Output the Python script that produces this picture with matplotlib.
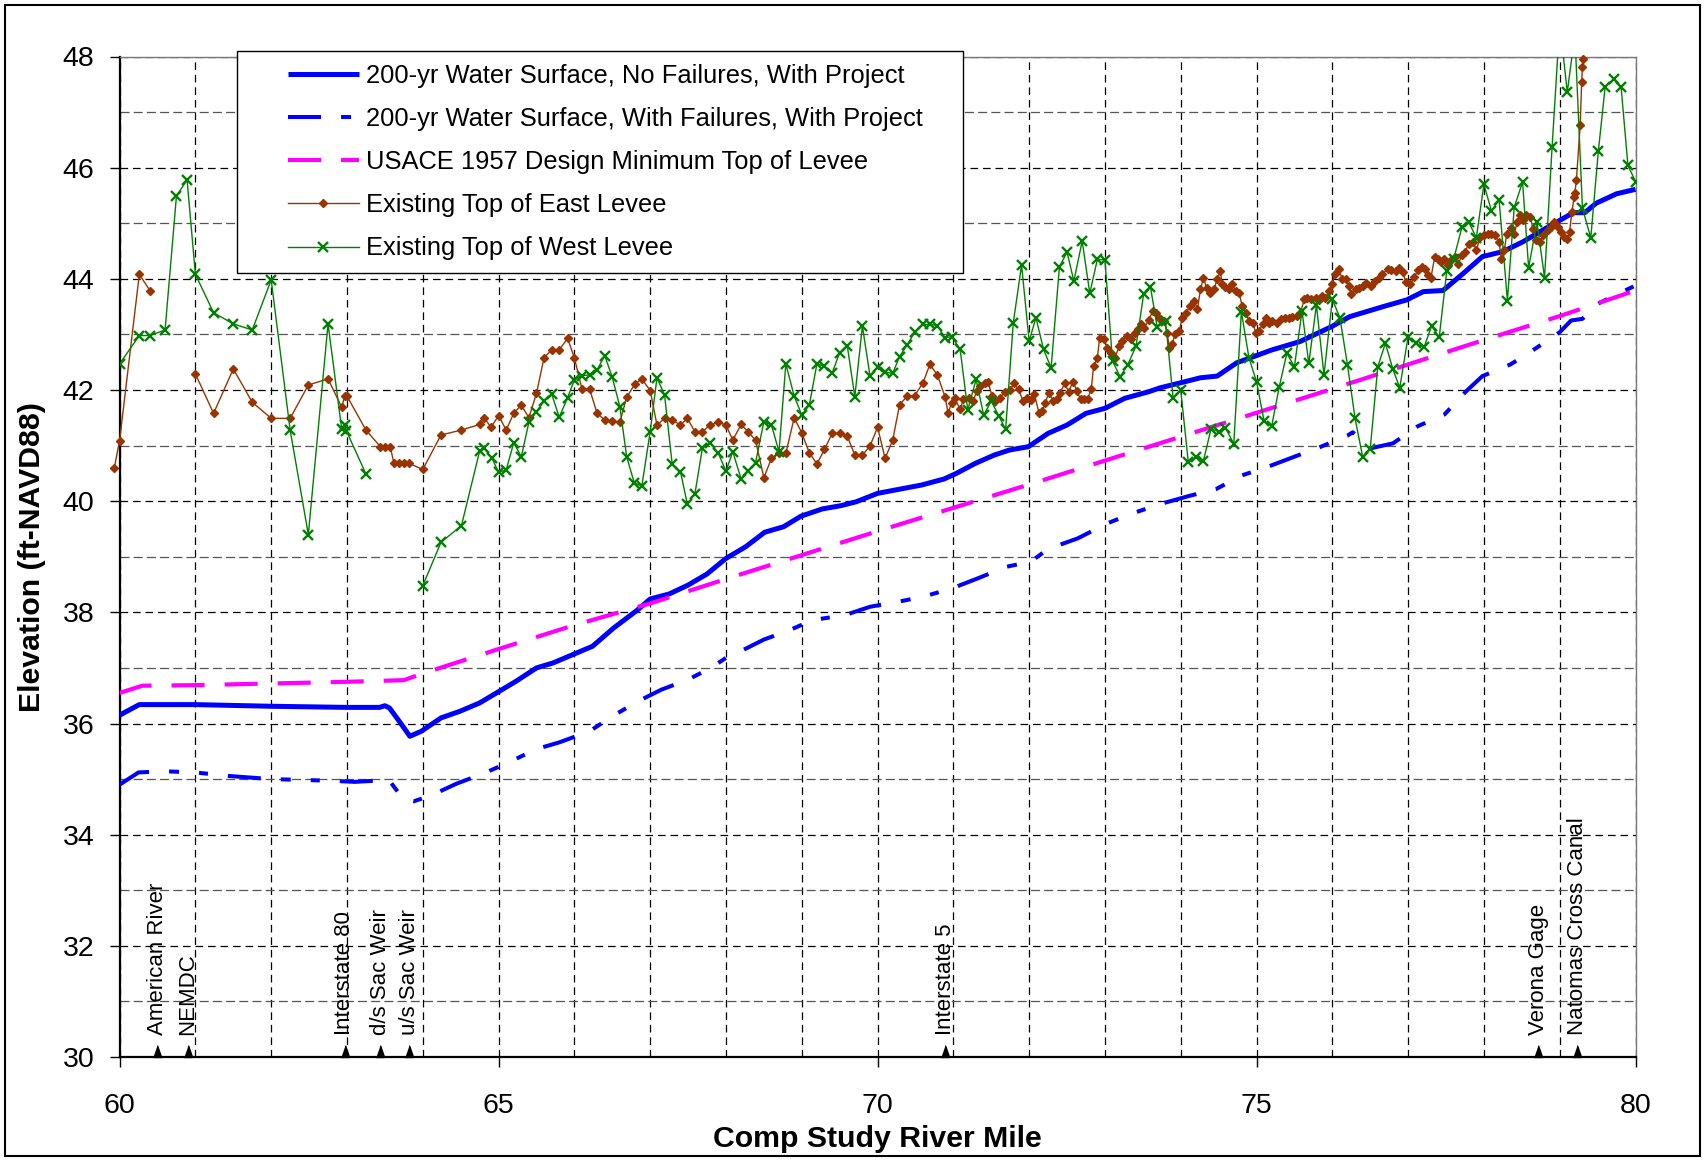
import numpy as np
import matplotlib
matplotlib.use('Agg')
import matplotlib.pyplot as plt
from matplotlib.lines import Line2D
from matplotlib.legend_handler import HandlerLine2D
from matplotlib.patches import Rectangle

plt.rcParams['font.family'] = ['Liberation Sans', 'DejaVu Sans']
plt.rcParams['lines.scale_dashes'] = False

nan = np.nan

# ---------------- data ----------------
ws_nofail_mile = [60.0, 60.26, 61.0, 62.0, 63.0, 63.43, 63.5, 63.56, 63.69, 63.83, 63.98, 64.24, 64.49, 64.75,
                  65.01, 65.23, 65.5, 65.72, 65.98, 66.24, 66.52, 66.84, 67.0, 67.25, 67.5, 67.75, 68.0, 68.26,
                  68.51, 68.76, 68.99, 69.27, 69.52, 69.72, 70.0, 70.23, 70.58, 70.88, 71.04, 71.29, 71.54,
                  71.74, 71.99, 72.25, 72.5, 72.75, 73.0, 73.26, 73.58, 73.73, 74.0, 74.26, 74.48, 74.74, 75.2,
                  75.57, 75.99, 76.23, 76.67, 76.98, 77.2, 77.46, 77.73, 77.98, 78.25, 78.52, 78.78, 79.05,
                  79.18, 79.33, 79.48, 79.75, 80.0]
ws_nofail_elev = [36.15, 36.34, 36.34, 36.31, 36.29, 36.29, 36.32, 36.28, 36.04, 35.77, 35.86, 36.1, 36.22, 36.37,
                  36.58, 36.76, 37.0, 37.09, 37.24, 37.39, 37.72, 38.05, 38.24, 38.33, 38.49, 38.69, 38.97, 39.18,
                  39.44, 39.54, 39.73, 39.86, 39.92, 39.99, 40.14, 40.2, 40.29, 40.4, 40.5, 40.68, 40.83,
                  40.92, 40.98, 41.22, 41.37, 41.58, 41.67, 41.85, 41.97, 42.04, 42.13, 42.22, 42.25, 42.49, 42.72,
                  42.87, 43.14, 43.32, 43.5, 43.62, 43.77, 43.79, 44.1, 44.4, 44.49, 44.67, 44.88, 45.09,
                  45.19, 45.19, 45.36, 45.53, 45.61]

ws_fail_mile = [60.0, 60.25, 60.6, 61.0, 61.4, 62.0, 62.8, 63.1, 63.5, 63.56, 63.75, 63.88, 64.1, 64.45, 64.8,
                65.1, 65.5, 65.8, 66.2, 66.5, 66.84, 67.15, 67.5, 67.8, 68.0, 68.15, 68.5, 68.84, 69.14, 69.57,
                69.9, 70.27, 70.6, 70.98, 71.32, 71.7, 72.02, 72.25, 72.64, 73.03, 73.36, 73.76, 74.1, 74.47,
                74.8, 75.19, 75.5, 75.85, 76.2, 76.27, 76.5, 76.8, 77.13, 77.48, 77.76, 77.98, 78.35, 78.63,
                79.0, 79.15, 79.3, 79.5, 79.65, 80.0]
ws_fail_elev = [34.9, 35.12, 35.14, 35.12, 35.06, 35.0, 34.97, 34.95, 34.98, 34.97, 34.63, 34.6, 34.7, 34.92, 35.1,
                35.28, 35.54, 35.66, 35.86, 36.13, 36.4, 36.61, 36.79, 37.0, 37.18, 37.27, 37.51, 37.68, 37.86, 37.95,
                38.1, 38.19, 38.28, 38.43, 38.61, 38.82, 38.91, 39.14, 39.33, 39.6, 39.78, 39.96, 40.09, 40.22,
                40.46, 40.64, 40.8, 40.98, 41.18, 41.24, 40.95, 41.04, 41.35, 41.56, 41.97, 42.25, 42.46, 42.7,
                43.04, 43.25, 43.28, 43.55, 43.65, 43.88]

usace_mile = [60.0, 60.3, 61.0, 62.0, 63.0, 63.75, 64.0, 65.0, 66.0, 67.0, 68.0, 69.0, 70.0, 71.0, 72.0, 73.0,
              74.0, 75.0, 76.0, 77.0, 78.0, 79.0, 80.0]
usace_elev = [36.55, 36.68, 36.69, 36.72, 36.75, 36.78, 36.9, 37.34, 37.77, 38.16, 38.6, 39.03, 39.46, 39.88,
              40.3, 40.73, 41.16, 41.59, 42.02, 42.46, 42.9, 43.33, 43.79]

east_mile = [59.93, 60.0, 60.26, 60.4, nan, 61.0, 61.24, 61.5, 61.75, 62.0, 62.25, 62.49, 62.75, 62.93, 62.97, 63.0,
             63.25, 63.44, 63.5, 63.57, 63.62, 63.69, 63.75, 63.82, 64.0, 64.24, 64.51, 64.75, 64.81, 64.9, 65.0,
             65.1, 65.2, 65.3, 65.4, 65.5, 65.6, 65.7, 65.8, 65.91, 66.0, 66.1, 66.2, 66.3, 66.4, 66.5, 66.6,
             66.69, 66.8, 66.89, 67.0, 67.09, 67.19, 67.29, 67.4, 67.49, 67.59, 67.69, 67.79, 67.9, 68.0, 68.09,
             68.2, 68.29, 68.39, 68.5, 68.6, 68.7, 68.79, 68.9, 69.0, 69.1, 69.2, 69.3, 69.4, 69.5, 69.6, 69.7,
             69.8, 69.9, 70.0, 70.1, 70.2, 70.29, 70.39, 70.49, 70.6, 70.69, 70.79, 70.89, 70.93, 70.98, 71.02,
             71.09, 71.13, 71.2, 71.26, 71.31, 71.35, 71.42, 71.46, 71.51, 71.55, 71.62, 71.68, 71.75, 71.8,
             71.86, 71.92, 71.97, 72.02, 72.07, 72.13, 72.17, 72.21, 72.26, 72.32, 72.37, 72.41, 72.47, 72.52,
             72.58, 72.63, 72.68, 72.72, 72.77, 72.82, 72.85, 72.9, 72.93, 72.99, 73.03, 73.08, 73.13, 73.19,
             73.23, 73.29, 73.34, 73.4, 73.44, 73.48, 73.52, 73.58, 73.63, 73.67, 73.71, 73.78, 73.82, 73.85,
             73.89, 73.92, 73.98, 74.02, 74.07, 74.12, 74.18, 74.22, 74.26, 74.3, 74.34, 74.39, 74.44, 74.48,
             74.52, 74.55, 74.59, 74.64, 74.68, 74.73, 74.77, 74.81, 74.86, 74.9, 74.95, 74.99, 75.03, 75.08,
             75.12, 75.17, 75.21, 75.27, 75.32, 75.37, 75.43, 75.47, 75.53, 75.58, 75.63, 75.67, 75.72, 75.78,
             75.83, 75.87, 75.91, 75.96, 76.0, 76.03, 76.09, 76.13, 76.18, 76.22, 76.25, 76.31, 76.35, 76.41,
             76.45, 76.51, 76.56, 76.62, 76.66, 76.73, 76.78, 76.84, 76.88, 76.93, 76.97, 77.03, 77.08, 77.13,
             77.18, 77.22, 77.26, 77.3, 77.35, 77.39, 77.43, 77.48, 77.52, 77.56, 77.62, 77.66, 77.71, 77.75,
             77.8, 77.86, 77.9, 77.95, 78.0, 78.05, 78.1, 78.15, 78.2, 78.23, 78.27, 78.3, 78.36, 78.4, 78.44,
             78.47, 78.52, 78.56, 78.61, 78.65, 78.69, 78.74, 78.78, 78.84, 78.88, 78.93, 78.98, 79.02, 79.06,
             79.1, 79.13, 79.16, 79.19, 79.2, 79.22, 79.27, 79.29, 79.3, 79.31]
east_elev = [40.6, 41.09, 44.08, 43.79, nan, 42.29, 41.58, 42.38, 41.78, 41.49, 41.49, 42.09, 42.2, 41.69, 41.89, 41.89,
             41.28, 40.98, 40.98, 40.98, 40.68, 40.68, 40.68, 40.68, 40.57, 41.19, 41.28, 41.38, 41.5, 41.33, 41.54,
             41.28, 41.58, 41.73, 41.5, 41.94, 42.58, 42.72, 42.72, 42.93, 42.58, 42.02, 42.02, 41.58, 41.46, 41.44, 41.42,
             41.87, 42.11, 42.2, 41.99, 41.37, 41.49, 41.46, 41.37, 41.49, 41.25, 41.25, 41.37, 41.42, 41.37, 41.1,
             41.38, 41.25, 41.1, 40.42, 40.77, 40.86, 40.86, 41.5, 41.23, 40.87, 40.67, 40.93, 41.22, 41.22, 41.17, 40.83,
             40.83, 40.99, 41.33, 40.77, 41.1, 41.73, 41.89, 41.9, 42.13, 42.46, 42.27, 41.88, 41.59, 41.77, 41.85,
             41.65, 41.83, 41.86, 41.8, 41.98, 42.07, 42.13, 42.14, 41.89, 41.8, 41.86, 41.97, 42.0, 42.12,
             42.01, 41.8, 41.86, 41.82, 41.92, 41.59, 41.62, 41.76, 41.95, 41.8, 41.83, 41.95, 42.12, 41.97,
             42.15, 41.98, 41.83, 41.84, 41.83, 42.02, 42.43, 42.58, 42.94, 42.91, 42.76, 42.66, 42.58, 42.79,
             42.88, 42.97, 42.91, 43.03, 43.1, 43.18, 43.12, 43.26, 43.42, 43.39, 43.3, 43.24, 43.03, 42.76,
             42.82, 43.0, 43.06, 43.3, 43.39, 43.51, 43.6, 43.45, 43.81, 44.02, 43.84, 43.75, 43.81, 43.99,
             44.14, 43.9, 43.86, 43.82, 43.9, 43.78, 43.75, 43.51, 43.39, 43.24, 43.21, 43.03, 43.06, 43.18,
             43.3, 43.21, 43.24, 43.21, 43.27, 43.3, 43.3, 43.32, 43.33, 43.39, 43.63, 43.66, 43.63, 43.66,
             43.62, 43.69, 43.66, 43.78, 43.9, 44.08, 44.17, 43.99, 43.99, 43.87, 43.72, 43.81, 43.84, 43.87,
             43.93, 43.87, 43.96, 44.02, 44.08, 44.18, 44.16, 44.14, 44.2, 44.12, 43.94, 43.9, 44.03, 44.15,
             44.21, 44.18, 44.06, 44.01, 44.39, 44.36, 44.3, 44.36, 44.24, 44.33, 44.39, 44.27, 44.42, 44.48,
             44.63, 44.66, 44.51, 44.75, 44.78, 44.81, 44.81, 44.78, 44.66, 44.36, 44.51, 44.81, 44.91, 44.81, 45.02,
             45.14, 45.05, 45.15, 45.11, 44.9, 44.69, 44.66, 44.78, 44.87, 44.93, 45.03, 44.93, 44.84, 44.75,
             44.72, 44.84, 45.2, 45.47, 45.55, 45.77, 46.76, 47.55, 47.81, 47.95]

west_mile = [60.0, 60.26, 60.4, 60.6, 60.75, 60.89, 61.0, 61.24, 61.5, 61.75, 62.0, 62.25, 62.49, 62.75, 62.93,
             62.97, 62.99, 63.25, nan, 64.0, 64.24, 64.51, 64.75, 64.81, 64.91, 65.0, 65.1, 65.2, 65.3, 65.4, 65.5,
             65.6, 65.7, 65.8, 65.91, 66.0, 66.1, 66.2, 66.3, 66.4, 66.5, 66.6, 66.69, 66.79, 66.89, 67.0, 67.09,
             67.19, 67.29, 67.4, 67.49, 67.59, 67.69, 67.79, 67.9, 68.0, 68.09, 68.2, 68.29, 68.39, 68.5, 68.6,
             68.7, 68.79, 68.9, 69.0, 69.1, 69.2, 69.3, 69.4, 69.5, 69.6, 69.7, 69.8, 69.9, 70.0, 70.1, 70.2,
             70.29, 70.39, 70.49, 70.6, 70.69, 70.79, 70.89, 70.98, 71.09, 71.19, 71.3, 71.4, 71.5, 71.6, 71.69,
             71.79, 71.9, 72.0, 72.09, 72.19, 72.29, 72.4, 72.5, 72.59, 72.7, 72.8, 72.9, 73.0, 73.1, 73.2, 73.3,
             73.41, 73.51, 73.6, 73.69, 73.8, 73.9, 74.0, 74.1, 74.2, 74.3, 74.4, 74.5, 74.59, 74.7, 74.8, 74.9,
             75.0, 75.1, 75.2, 75.3, 75.4, 75.5, 75.6, 75.69, 75.79, 75.89, 76.0, 76.1, 76.2, 76.3, 76.4, 76.5,
             76.6, 76.7, 76.8, 76.89, 77.0, 77.1, 77.21, 77.31, 77.41, 77.51, 77.6, 77.71, 77.8, 77.9, 78.0,
             78.1, 78.2, 78.31, 78.4, 78.51, 78.59, 78.7, 78.8, 78.9, 79.0, 79.1, 79.2, 79.3, 79.41, 79.51, 79.6,
             79.71, 79.81, 79.9, 80.0]
west_elev = [42.47, 42.98, 42.98, 43.08, 45.49, 45.78, 44.08, 43.39, 43.19, 43.08, 43.98, 41.28, 39.4, 43.19, 41.3,
             41.37, 41.27, 40.49, nan, 38.48, 39.26, 39.56, 40.9, 40.95, 40.78, 40.52, 40.56, 41.05, 40.8, 41.42, 41.61,
             41.8, 41.93, 41.51, 41.86, 42.18, 42.26, 42.27, 42.36, 42.62, 42.23, 41.7, 40.8, 40.33, 40.27, 41.25, 42.22,
             41.91, 40.67, 40.53, 39.95, 40.13, 40.96, 41.05, 40.86, 40.54, 40.89, 40.4, 40.54, 40.69, 41.43, 41.37,
             40.89, 42.47, 41.89, 41.55, 41.73, 42.47, 42.43, 42.3, 42.67, 42.8, 41.88, 43.15, 42.26, 42.41, 42.32, 42.3,
             42.6, 42.81, 43.04, 43.18, 43.18, 43.16, 42.94, 42.96, 42.73, 41.64, 42.19, 41.55, 41.8, 41.53, 41.29,
             43.2, 44.25, 42.88, 43.3, 42.73, 42.4, 44.22, 44.48, 43.96, 44.68, 43.74, 44.35, 44.34, 42.52, 42.24, 42.45,
             42.79, 43.72, 43.86, 43.13, 43.24, 41.85, 42.0, 40.7, 40.8, 40.73, 41.3, 41.25, 41.32, 41.03, 43.41, 42.58,
             42.15, 41.44, 41.35, 42.06, 42.66, 42.42, 43.42, 42.48, 43.53, 42.27, 43.63, 43.3, 42.45, 41.49, 40.8, 40.94,
             42.42, 42.84, 42.37, 42.04, 42.96, 42.84, 42.77, 43.15, 42.95, 44.14, 44.35, 44.93, 45.02, 44.74, 45.7,
             45.22, 45.42, 43.61, 45.29, 45.74, 44.2, 45.02, 44.02, 46.38, 48.6, 47.36, 48.4, 45.27, 44.74, 46.3, 47.46,
             47.59, 47.45, 46.04, 45.75]

landmark_names = ['American River', 'NEMDC', 'Interstate 80', 'd/s Sac Weir', 'u/s Sac Weir',
                  'Interstate 5', 'Verona Gage', 'Natomas Cross Canal']
landmark_miles = [60.5, 60.9, 62.97, 63.44, 63.82, 70.89, 78.72, 79.23]

series_labels = ['200-yr Water Surface, No Failures, With Project',
                 '200-yr Water Surface, With Failures, With Project',
                 'USACE 1957 Design Minimum Top of Levee',
                 'Existing Top of East Levee',
                 'Existing Top of West Levee']

# ---------------- figure ----------------
W, H = 1705, 1160
fig = plt.figure(figsize=(W / 100, H / 100), dpi=100)
ax = fig.add_axes([119.6 / W, 1 - 1057 / H, (1635.5 - 119.6) / W, (1057 - 56.5) / H])

ax.set_xlim(60, 80)
ax.set_ylim(30, 48)
ax.set_xticks(np.arange(60, 81, 5))
ax.set_xticks(np.arange(60, 81, 1), minor=True)
ax.set_yticks(np.arange(30, 49, 2))
ax.set_yticks(np.arange(30, 49, 1), minor=True)

ax.set_axisbelow(True)
ax.grid(which='both', axis='x', color='black', lw=0.9, ls=(0, (5.5, 3.5)))
ax.grid(which='major', axis='y', color='black', lw=0.9, ls=(0, (5.5, 3.5)))
ax.grid(which='minor', axis='y', color='#555555', lw=0.9, ls=(0, (6.5, 3.0)))

ax.tick_params(which='major', direction='out', length=7.2, width=1.0, labelsize=20.5)
ax.tick_params(axis='y', which='major', pad=11)
ax.tick_params(axis='x', which='major', pad=18.5)
ax.tick_params(which='minor', length=0)
for s in ['left', 'bottom']:
    ax.spines[s].set_linewidth(1.6)
    ax.spines[s].set_color('black')
for s in ['top', 'right']:
    ax.spines[s].set_linewidth(1.0)
    ax.spines[s].set_color('#777777')

l1, = ax.plot(ws_nofail_mile, ws_nofail_elev, color='#0000FF', lw=3.6, solid_capstyle='butt', zorder=3)
l2, = ax.plot(ws_fail_mile, ws_fail_elev, color='#0000FF', lw=2.9,
              dashes=[23.8, 14.4, 7.2, 14.4, 6.5, 14.4], dash_capstyle='butt', zorder=3)
l3, = ax.plot(usace_mile, usace_elev, color='#FF00FF', lw=3.0, dashes=[23.8, 14.4],
              dash_capstyle='butt', zorder=3)
l4, = ax.plot(east_mile, east_elev, color='#993300', lw=1.0, marker='D', ms=4.3,
              mec='#993300', mfc='#993300', zorder=4, clip_on=False)
l5, = ax.plot(west_mile, west_elev, color='#008000', lw=1.0, marker='x', ms=6.5, mew=1.7,
              zorder=5)

# landmark markers along the river-mile axis
tri = [(-0.42, 0.0), (0.42, 0.0), (0.0, 1.2)]
ax.plot(landmark_miles, [30] * len(landmark_miles), linestyle='none', marker=tri, ms=17,
        color='black', clip_on=False, zorder=6)
for name, m in zip(landmark_names, landmark_miles):
    ax.text(m, 30.4, name, rotation=90, ha='center', va='bottom', fontsize=16, zorder=6)

ax.set_xlabel('Comp Study River Mile', fontsize=21.8, fontweight='bold')
ax.set_ylabel('Elevation (ft-NAVD88)', fontsize=21.8, fontweight='bold')
ax.xaxis.set_label_coords(0.5, -0.0675)
ax.yaxis.set_label_coords(-0.0485, 0.5)

leg_fs = 18.4
leg = ax.legend([l1, l2, l3, l4, l5], series_labels, loc='upper left',
                bbox_to_anchor=(237 / W, 0.3, (963 - 237) / W, 1 - 51 / H - 0.3),
                bbox_transform=fig.transFigure, mode='expand', borderaxespad=0,
                fontsize=leg_fs, handlelength=4.26, handletextpad=0.27, borderpad=0.5,
                labelspacing=0.75, fancybox=False, framealpha=1, edgecolor='black',
                handler_map={Line2D: HandlerLine2D(xpad=1.49)})
leg.get_frame().set_linewidth(1.0)
leg.set_zorder(10)

fig.patches.append(Rectangle((5 / W, 4 / H), 1695 / W, 1151 / H, transform=fig.transFigure,
                             fill=False, ec='black', lw=1.5))

fig.savefig('out.png', dpi=100)
